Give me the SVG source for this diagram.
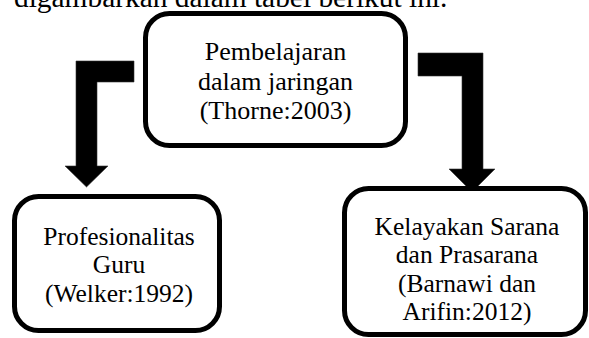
<svg xmlns="http://www.w3.org/2000/svg" width="589" height="338" viewBox="0 0 589 338">
<style>
.box{fill:#fff;stroke:#000;stroke-width:5}
.t{font-family:"Liberation Serif","Times New Roman",serif;font-size:25.5px;fill:#000;text-anchor:middle}
.arr{fill:#000;stroke:#333;stroke-width:0.6}
</style>
<rect width="589" height="338" fill="#fff"/>
<text x="14" y="7" font-family="Liberation Serif, serif" font-size="29.4" fill="#000">digambarkan dalam tabel berikut ini.</text>
<g id="connectors">
<polygon class="arr" points="134,61 76,61 76,166 65,166 86.5,187 108,166 97,166 97,82 134,82"/>
<polygon class="arr" points="418,53 483,53 483,169 495,169 472,192 449,169 462,169 462,76 418,76"/>
</g>
<g id="node-top">
<rect class="box" x="145.5" y="13.5" width="260" height="132" rx="24"/>
<text class="t" x="275.5" y="60" style="font-size:26px">Pembelajaran</text>
<text class="t" x="275.5" y="90" style="font-size:26px">dalam jaringan</text>
<text class="t" x="275.5" y="119" style="font-size:26px">(Thorne:2003)</text>
</g>
<g id="node-left">
<rect class="box" x="14.5" y="196.5" width="205" height="134" rx="24"/>
<text class="t" x="119" y="245">Profesionalitas</text>
<text class="t" x="119" y="273">Guru</text>
<text class="t" x="119" y="302">(Welker:1992)</text>
</g>
<g id="node-right">
<rect class="box" x="344.5" y="188.5" width="241" height="146" rx="24"/>
<text class="t" x="467" y="235">Kelayakan Sarana</text>
<text class="t" x="467" y="263">dan Prasarana</text>
<text class="t" x="467" y="292">(Barnawi dan</text>
<text class="t" x="467" y="320">Arifin:2012)</text>
</g>
</svg>
